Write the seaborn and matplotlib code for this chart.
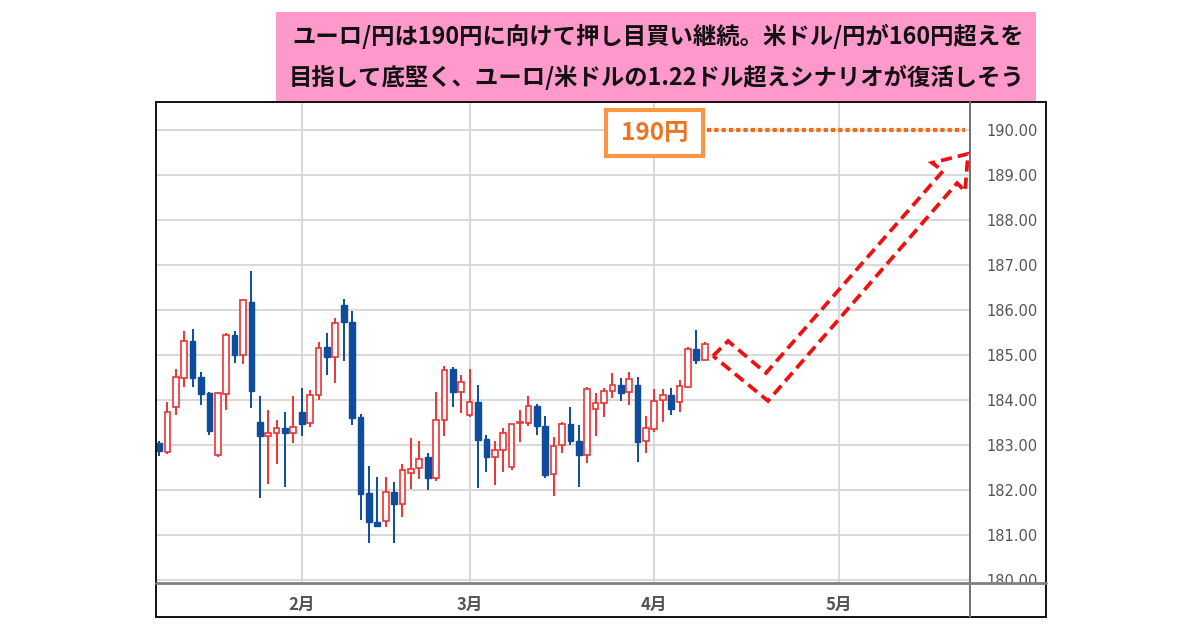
import numpy as np
import pandas as pd
import matplotlib
matplotlib.use("Agg")
import matplotlib.pyplot as plt
from matplotlib.patches import Rectangle, Polygon
from matplotlib.lines import Line2D
import seaborn as sns

# ---------------- data ----------------
opens = [183.05, 182.85, 183.85, 184.50, 185.32, 184.52, 184.15, 182.78, 184.13, 185.44,
         185.00, 186.18, 183.52, 183.21, 183.27, 183.38, 183.27, 183.74, 183.48, 184.11,
         185.17, 184.96, 186.11, 185.74, 183.63, 181.93, 181.30, 181.32, 181.96, 181.70,
         182.37, 182.48, 182.73, 182.27, 183.56, 184.68, 184.18, 183.67, 183.96, 183.13,
         182.74, 182.90, 182.52, 183.48, 183.48, 183.87, 183.42, 182.35, 183.00, 183.47,
         183.10, 182.78, 183.79, 183.93, 184.21, 184.33, 184.18, 184.33, 183.10, 183.35,
         184.00, 184.11, 183.96, 184.30, 185.13, 184.90]
highs = [183.10, 183.96, 184.68, 185.54, 185.58, 184.63, 184.17, 184.17, 185.49, 185.54,
         186.24, 186.87, 184.09, 183.78, 183.56, 183.74, 184.09, 184.27, 184.22, 185.29,
         185.50, 185.82, 186.24, 185.98, 183.70, 182.54, 182.30, 182.30, 182.17, 182.58,
         183.15, 183.10, 182.82, 184.17, 184.76, 184.74, 184.56, 184.70, 184.33, 183.22,
         183.10, 183.37, 183.47, 183.78, 184.09, 183.91, 183.64, 183.18, 183.52, 183.84,
         183.44, 184.28, 184.16, 184.26, 184.61, 184.48, 184.63, 184.52, 183.64, 184.24,
         184.24, 184.26, 184.44, 185.17, 185.56, 185.28]
lows = [182.75, 182.80, 183.67, 184.28, 184.28, 183.89, 183.22, 182.74, 183.78, 184.83,
        184.80, 183.82, 181.82, 182.13, 182.58, 182.07, 183.05, 183.20, 183.40, 184.00,
        184.56, 184.38, 184.87, 183.44, 181.33, 180.82, 181.18, 181.18, 180.82, 181.41,
        182.02, 182.24, 182.00, 182.21, 183.21, 183.85, 183.72, 183.63, 182.04, 182.41,
        182.11, 182.41, 182.44, 183.07, 183.42, 183.22, 182.26, 181.87, 182.83, 183.00,
        182.07, 182.60, 183.20, 183.63, 184.04, 183.98, 183.89, 182.63, 182.83, 183.30,
        183.52, 183.67, 183.74, 184.26, 184.80, 184.88]
closes = [182.87, 183.74, 184.52, 185.32, 184.50, 184.13, 183.32, 184.15, 185.44, 185.00,
          186.22, 184.20, 183.20, 183.27, 183.38, 183.27, 183.40, 183.46, 184.11, 185.15,
          184.96, 185.72, 185.73, 183.59, 181.91, 181.30, 181.20, 181.96, 181.69, 182.44,
          182.47, 182.70, 182.27, 183.56, 184.67, 184.18, 184.41, 183.96, 183.11, 182.74,
          182.90, 183.27, 183.47, 183.52, 183.87, 183.42, 182.33, 182.98, 183.47, 183.10,
          182.78, 184.24, 183.93, 184.21, 184.33, 184.16, 184.47, 183.07, 183.37, 183.98,
          184.11, 183.79, 184.32, 185.13, 184.90, 185.24]

month_labels = ["2月", "3月", "4月", "5月"]
month_index = [17, 37, 59, 81]          # first trading day of each month
price_ticks = [180, 181, 182, 183, 184, 185, 186, 187, 188, 189, 190]
target_price = 190
target_label = "190円"
target_x = [65.3, 96.0]

# scenario arrow outline (index, price)
arrow_x = [65.99, 67.78, 72.30, 93.39, 92.08, 96.37, 96.01, 95.06, 72.54]
arrow_y = [184.98, 185.31, 184.60, 189.09, 189.27, 189.47, 188.64, 188.82, 183.98]

title_lines = ["ユーロ/円は190円に向けて押し目買い継続。米ドル/円が160円超えを",
               "目指して底堅く、ユーロ/米ドルの1.22ドル超えシナリオが復活しそう"]

df = pd.DataFrame({"o": opens, "h": highs, "l": lows, "c": closes})
df["i"] = np.arange(len(df))
df["up"] = df["c"] >= df["o"]

# ---------------- style ----------------
sns.set_theme(style="white")
plt.rcParams["font.family"] = ["Noto Sans CJK JP", "DejaVu Sans"]

UP = "#EE3333"
DOWN = "#0E4C9E"
GRID = "#D6D6D6"

W, H = 1200, 630
fig = plt.figure(figsize=(12, 6.3), dpi=100)
fig.patch.set_facecolor("white")

def fx(px):
    return px / W

def fy(py):
    return 1 - py / H

L, R, T, B = 156, 970, 102, 582
ax = fig.add_axes([fx(L), fy(B), (R - L) / W, (B - T) / H])
ax.set_facecolor("white")
for s in ax.spines.values():
    s.set_visible(False)

ax.set_xlim(-0.36, 96.6)
ax.set_ylim(179.956, 190.622)

# grid
ax.set_yticks(price_ticks)
ax.set_yticklabels([f"{p:.2f}" for p in price_ticks])
ax.set_xticks(month_index)
ax.set_xticklabels(month_labels)
ax.grid(True, color=GRID, lw=1.3, zorder=0)
ax.set_axisbelow(True)
ax.yaxis.tick_right()
ax.tick_params(axis="y", length=0, pad=12, labelsize=10.5, labelcolor="#555555")
ax.tick_params(axis="x", length=0, pad=10, labelsize=12, labelcolor="#555555")
for t in ax.get_yticklabels():
    t.set_fontfamily("DejaVu Sans")
for t in ax.get_xticklabels():
    t.set_fontweight("bold")

# candles
up = df[df["up"]]
dn = df[~df["up"]]
ax.vlines(up["i"], up["l"], up["h"], color=UP, lw=1.4, zorder=2)
ax.vlines(dn["i"], dn["l"], dn["h"], color=DOWN, lw=1.4, zorder=2)
ax.bar(up["i"], (up["c"] - up["o"]).clip(lower=0.04), bottom=up["o"], width=0.68,
       facecolor="white", edgecolor=UP, linewidth=1.2, zorder=3)
ax.bar(dn["i"], (dn["o"] - dn["c"]).clip(lower=0.04), bottom=dn["c"], width=0.68,
       facecolor=DOWN, edgecolor=DOWN, linewidth=1.0, zorder=3)

# target dotted line
ax.plot(target_x, [target_price, target_price], color="#F26B12", lw=3.0,
        linestyle=(0, (1.0, 0.75)), dash_capstyle="butt", zorder=4, clip_on=False)

# scenario arrow
arrow = Polygon(np.column_stack([arrow_x, arrow_y]), closed=True, fill=False,
                edgecolor="#EE1111", lw=2.7, linestyle=(0, (3.0, 1.6)),
                joinstyle="miter", zorder=5, clip_on=False)
ax.add_patch(arrow)

# ---------------- figure decorations ----------------
# outer frame
fig.patches.append(Rectangle((fx(L), fy(617)), (1046 - L) / W, (617 - T) / H,
                             transform=fig.transFigure, fill=False,
                             edgecolor="#111111", lw=1.4, zorder=10))
# white mask below x-axis separator on the price scale
fig.patches.append(Rectangle((fx(971), fy(616)), (1045 - 971) / W, (616 - 583) / H,
                             transform=fig.transFigure, facecolor="white",
                             edgecolor="none", zorder=8))
fig.lines.append(Line2D([fx(R), fx(R)], [fy(T), fy(617)], transform=fig.transFigure,
                        color="#707070", lw=1.4, zorder=11))
fig.lines.append(Line2D([fx(L), fx(1046)], [fy(582.5), fy(582.5)], transform=fig.transFigure,
                        color="#808080", lw=2.0, zorder=11))

# title box
fig.patches.append(Rectangle((fx(276), fy(101)), (1036 - 276) / W, (101 - 12) / H,
                             transform=fig.transFigure, facecolor="#FF99CC",
                             edgecolor="none", zorder=9))
fig.text(fx(658), fy(36), title_lines[0], ha="center", va="center", fontsize=16.8,
         fontweight="bold", color="#111111", zorder=12)
fig.text(fx(657), fy(77), title_lines[1], ha="center", va="center", fontsize=16.8,
         fontweight="bold", color="#111111", zorder=12)

# 190円 label box
fig.patches.append(Rectangle((fx(606), fy(156)), (703 - 606) / W, (156 - 110) / H,
                             transform=fig.transFigure, facecolor="white",
                             edgecolor="#F79646", lw=3.0, zorder=12))
fig.text(fx(654.5), fy(133), target_label, ha="center", va="center", fontsize=17.5,
         fontweight="bold", color="#EE7420", zorder=13)

fig.savefig("out.png", dpi=100, facecolor="white")
